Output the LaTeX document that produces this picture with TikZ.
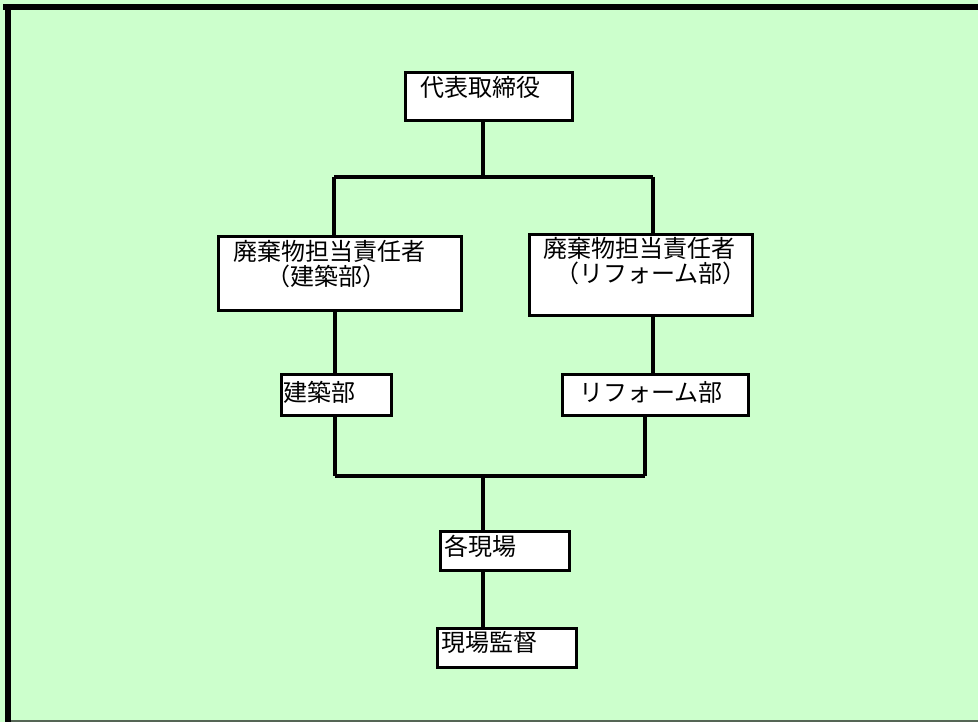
\documentclass[tikz,border=0pt]{standalone}
\usepackage{fontspec}
\newfontfamily\jpfont{Noto Sans CJK JP}
\definecolor{bggreen}{HTML}{CCFFCC}
\definecolor{edgegray}{HTML}{556655}
\tikzset{
  orgbox/.style={rectangle, draw=black, fill=white, line width=3pt, inner sep=0pt},
  orgtext/.style={inner sep=0pt, anchor=west, font=\jpfont\fontsize{24}{25}\selectfont},
  orgline/.style={line width=3.3pt, black}
}
\begin{document}
\begin{tikzpicture}[x=1pt, y=-1pt]
            \useasboundingbox (0,0) rectangle (978,722);
            \fill[bggreen] (0,0) rectangle (978,722);
            \fill[black] (3,4) rectangle (978,10);
            \fill[black] (5,4) rectangle (11,722);
            \draw[edgegray, line width=1.5pt] (11,721) -- (978,721);
            \node[orgbox, minimum width=167pt, minimum height=48pt] (ceo) at (489,96.5) {};
            \node[orgbox, minimum width=243pt, minimum height=74pt] (wastel) at (340,273.5) {};
            \node[orgbox, minimum width=223pt, minimum height=81pt] (waster) at (641,275) {};
            \node[orgbox, minimum width=110pt, minimum height=41pt] (kenchiku) at (336.5,395) {};
            \node[orgbox, minimum width=186pt, minimum height=41pt] (reform) at (655.5,395) {};
            \node[orgbox, minimum width=129pt, minimum height=39pt] (site) at (505,551) {};
            \node[orgbox, minimum width=139pt, minimum height=39pt] (super) at (507,648) {};
            \node[orgtext] (ceot) at (420,87) {代表取締役};
            \node[orgtext, align=left] (wastelt) at (233,264.5) {廃棄物担当責任者\\\hspace{1.4em}（建築部）};
            \node[orgtext, align=left] (wastert) at (543,261.5) {廃棄物担当責任者\\\hspace{0.5em}（リフォーム部）};
            \node[orgtext] (kenchikut) at (283,392) {建築部};
            \node[orgtext] (reformt) at (579,392) {リフォーム部};
            \node[orgtext] (sitet) at (444,546) {各現場};
            \node[orgtext] (supert) at (441,642) {現場監督};
            \coordinate (j1) at (483,177);
            \coordinate (j1l) at (334,177);
            \coordinate (j1r) at (653,177);
            \coordinate (j2) at (483,476);
            \coordinate (j2l) at (335,476);
            \coordinate (j2r) at (645,476);
            \draw[orgline] (ceo.south -| j1) -- (j1);
            \draw[orgline] (j1l) -- (j1r);
            \draw[orgline] (j1l) -- (wastel.north -| j1l);
            \draw[orgline] (j1r) -- (waster.north -| j1r);
            \draw[orgline] (wastel.south -| j2l) -- (kenchiku.north -| j2l);
            \draw[orgline] (waster.south -| j1r) -- (reform.north -| j1r);
            \draw[orgline] (kenchiku.south -| j2l) -- (j2l);
            \draw[orgline] (reform.south -| j2r) -- (j2r);
            \draw[orgline] (j2l) -- (j2r);
            \draw[orgline] (j2) -- (site.north -| j2);
            \draw[orgline] (site.south -| j2) -- (super.north -| j2);
        \end{tikzpicture}
\end{document}
